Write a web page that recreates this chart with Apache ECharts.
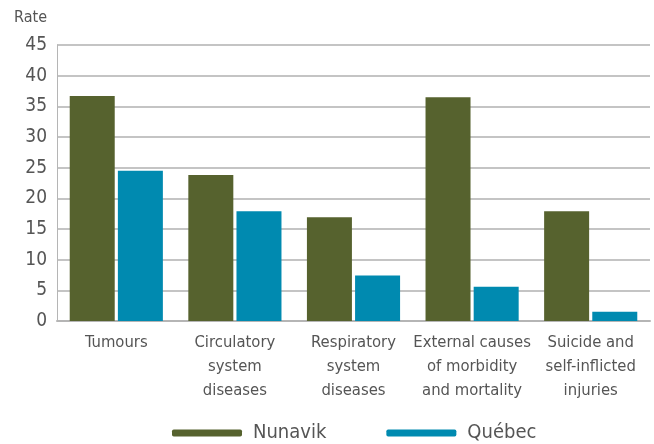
<!DOCTYPE html>
<html>
<head>
<meta charset="utf-8">
<script src="https://cdn.jsdelivr.net/npm/echarts@6/dist/echarts.min.js"></script>
<style>
  html, body { margin: 0; padding: 0; background: #fff; }
  #chart { width: 654px; height: 444px; }
</style>
</head>
<body>
<div id="chart"></div>
<script>
// categories and values
const categories = [
  'Tumours',
  'Circulatory\nsystem\ndiseases',
  'Respiratory\nsystem\ndiseases',
  'External causes\nof morbidity\nand mortality',
  'Suicide and\nself-inflicted\ninjuries'
];
const nunavik = [36.7, 23.8, 16.9, 36.5, 17.9];
const quebec = [24.5, 17.9, 7.4, 5.6, 1.5];

const font = '"DejaVu Sans Condensed", "Liberation Sans Narrow", sans-serif';
const green = '#56622e';
const blue = '#008ab0';

const chart = echarts.init(document.getElementById('chart'));
chart.setOption({
  animation: false,
  grid: {
    left: 57,
    right: 4,
    top: 45,
    bottom: 123,
    containLabel: false,
    outerBoundsMode: 'none'
  },
  legend: {
    left: 167,
    top: 418,
    icon: 'roundRect',
    itemWidth: 70,
    itemHeight: 7,
    itemGap: 60,
    data: ['Nunavik', 'Québec'],
    textStyle: {
      fontFamily: font,
      fontSize: 20,
      color: '#555',
      padding: [0, 0, 0, 6]
    }
  },
  xAxis: {
    type: 'category',
    data: categories,
    axisLine: { lineStyle: { color: '#b5b5b5', width: 2 } },
    axisTick: { inside: true, length: 7, lineStyle: { color: '#b5b5b5' } },
    axisLabel: {
      interval: 0,
      margin: 10,
      fontFamily: font,
      fontSize: 16.5,
      lineHeight: 24,
      color: '#555'
    }
  },
  yAxis: {
    type: 'value',
    min: 0,
    max: 45,
    interval: 5,
    name: 'Rate',
    nameLocation: 'end',
    nameGap: 19,
    nameTextStyle: {
      fontFamily: font,
      fontSize: 16,
      color: '#555',
      align: 'right',
      padding: [0, 10, 0, 0]
    },
    axisLine: { show: true, lineStyle: { color: '#b5b5b5' } },
    axisTick: { show: false },
    axisLabel: {
      margin: 10,
      fontFamily: font,
      fontSize: 19,
      color: '#555'
    },
    splitLine: { lineStyle: { color: '#c4c4c4', width: 2 } }
  },
  series: [
    {
      name: 'Nunavik',
      type: 'bar',
      data: nunavik,
      barWidth: 45,
      barGap: '7%',
      itemStyle: { color: green }
    },
    {
      name: 'Québec',
      type: 'bar',
      data: quebec,
      barWidth: 45,
      itemStyle: { color: blue }
    }
  ]
});
</script>
</body>
</html>
